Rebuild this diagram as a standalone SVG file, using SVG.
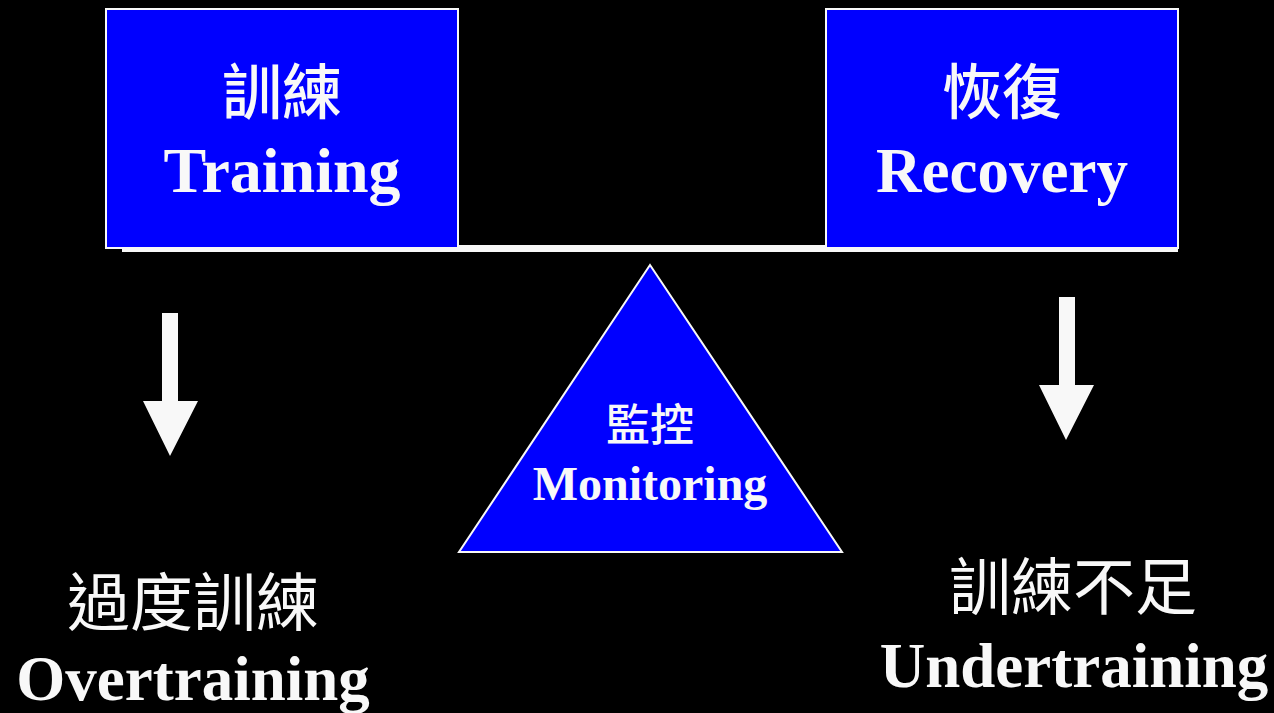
<svg xmlns="http://www.w3.org/2000/svg" width="1274" height="713" viewBox="0 0 1274 713">
<style>
.bg{fill:#000}
.box{fill:#0000ff;stroke:#f8f8f8;stroke-width:2}
.bar{fill:#f8f8f8}
.arrow{fill:#f8f8f8}
.zh{font-family:"Noto Sans CJK TC","Noto Sans CJK SC",sans-serif;fill:#f8f8f8;text-anchor:middle}
.en{font-family:"Liberation Serif",serif;font-weight:bold;fill:#f8f8f8;text-anchor:middle}
</style>
<rect class="bg" x="0" y="0" width="1274" height="713"/>
<g id="beam"><rect class="bar" x="122" y="245" width="1056" height="7"/></g>
<g id="training">
<rect class="box" x="106" y="9" width="352" height="239"/>
<text class="zh" x="282" y="114" font-size="60" font-weight="500">訓練</text>
<text class="en" x="282" y="192" font-size="64">Training</text>
</g>
<g id="recovery">
<rect class="box" x="826" y="9" width="352" height="239"/>
<text class="zh" x="1002" y="114" font-size="60" font-weight="500">恢復</text>
<text class="en" x="1002" y="192" font-size="63">Recovery</text>
</g>
<g id="monitoring">
<polygon class="box" points="650,265 842,552 459,552"/>
<text class="zh" x="650" y="441" font-size="44" font-weight="500">監控</text>
<text class="en" x="650" y="500" font-size="48">Monitoring</text>
</g>
<g id="connectors">
<polygon class="arrow" points="162,313 178,313 178,401 198,401 170,456 143,401 162,401"/>
<polygon class="arrow" points="1059,297 1075,297 1075,385 1094,385 1066,440 1039,385 1059,385"/>
</g>
<g id="overtraining">
<text class="zh" x="193" y="625" font-size="63">過度訓練</text>
<text class="en" x="193" y="700" font-size="63">Overtraining</text>
</g>
<g id="undertraining">
<text class="zh" x="1073" y="610" font-size="62">訓練不足</text>
<text class="en" x="1074" y="687" font-size="63">Undertraining</text>
</g>
</svg>
